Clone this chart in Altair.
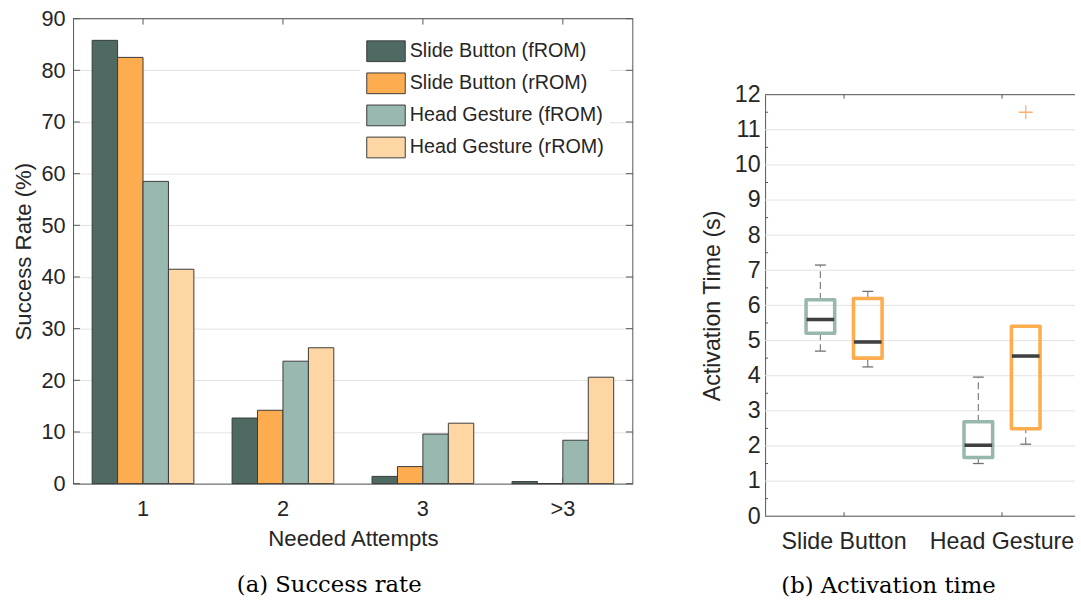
import altair as alt
import pandas as pd

# ---------------- data: (a) success rate ----------------
attempts = ["1", "2", "3", ">3"]
series = ["Slide Button (fROM)", "Slide Button (rROM)",
          "Head Gesture (fROM)", "Head Gesture (rROM)"]
slide_button_from = [85.8, 12.7, 1.4, 0.4]
slide_button_rrom = [82.5, 14.2, 3.3, 0.0]
head_gesture_from = [58.5, 23.7, 9.6, 8.4]
head_gesture_rrom = [41.5, 26.3, 11.7, 20.6]
rate_ticks = [0, 10, 20, 30, 40, 50, 60, 70, 80, 90]

# ---------------- data: (b) activation time ----------------
methods = ["Slide Button", "Head Gesture"]
roms = ["fROM", "rROM"]
box_method = ["Slide Button", "Slide Button", "Head Gesture", "Head Gesture"]
box_rom = ["fROM", "rROM", "fROM", "rROM"]
whisker_low = [4.7, 4.25, 1.5, 2.05]
quartile_1 = [5.21, 4.5, 1.67, 2.49]
median = [5.6, 4.96, 2.02, 4.56]
quartile_3 = [6.16, 6.2, 2.69, 5.41]
whisker_high = [7.15, 6.4, 3.96, 5.41]
outlier_method = ["Head Gesture"]
outlier_rom = ["rROM"]
outlier_value = [11.5]
time_ticks = [0, 1, 2, 3, 4, 5, 6, 7, 8, 9, 10, 11, 12]
time_minor = [0.5, 1.5, 2.5, 3.5, 4.5, 5.5, 6.5, 7.5, 8.5, 9.5, 10.5, 11.5]

# ---------------- style ----------------
SANS = "Liberation Sans"
SERIF = "DejaVu Serif"
TXT = "#262626"
AX = "#555555"
GRID = "#e3e3e3"
bar_colors = ["#4E6A63", "#FDAD4F", "#98B8B0", "#FED6A4"]
box_colors = ["#98B8AF", "#FDAD4F"]

LW, LH = 567, 471      # left plot size
RW, RH = 314, 427      # right plot size (visible part)

# ---------------- tables ----------------
rows = []
for vals, s in zip([slide_button_from, slide_button_rrom, head_gesture_from, head_gesture_rrom], series):
    for a, v in zip(attempts, vals):
        rows.append({"attempt": a, "series": s, "rate": v})
bar_df = pd.DataFrame(rows)
rate_tick_df = pd.DataFrame({"rate": rate_ticks})
att_df = pd.DataFrame({"attempt": attempts})
one = pd.DataFrame({"k": [0]})

box_df = pd.DataFrame({"method": box_method, "rom": box_rom, "lo": whisker_low,
                       "q1": quartile_1, "med": median, "q3": quartile_3, "hi": whisker_high})
out_df = pd.DataFrame({"method": outlier_method, "rom": outlier_rom, "q1": outlier_value})
time_tick_df = pd.DataFrame({"q1": time_ticks})
time_minor_df = pd.DataFrame({"q1": time_minor})
meth_df = pd.DataFrame({"method": methods})

# ---------------- (a) grouped bars ----------------
xa_scale = alt.Scale(domain=attempts, paddingInner=0.273, paddingOuter=0.1365)
ya_scale = alt.Scale(domain=[0, 90], nice=False)
xa_axis = alt.Axis(title="Needed Attempts", labelAngle=0, ticks=False,
                   domainColor=AX, labelFont=SANS, titleFont=SANS,
                   labelFontSize=22, titleFontSize=22.5, labelColor=TXT,
                   titleColor=TXT, titleFontWeight="normal",
                   labelPadding=15, titlePadding=9)
ya_axis = alt.Axis(values=rate_ticks, title="Success Rate (%)", ticks=False,
                   grid=True, gridColor=GRID, domainColor=AX,
                   labelFont=SANS, titleFont=SANS, labelFontSize=22,
                   titleFontSize=22.5, labelColor=TXT, titleColor=TXT,
                   titleFontWeight="normal", labelPadding=8, titlePadding=6)
x_left = alt.X("attempt:N", sort=attempts, scale=xa_scale, axis=xa_axis)
y_left = alt.Y("rate:Q", scale=ya_scale, axis=ya_axis)

bars = alt.Chart(bar_df).mark_bar(stroke="#3a3a3a", strokeWidth=1).encode(
    x=x_left,
    xOffset=alt.XOffset("series:N", sort=series,
                        scale=alt.Scale(domain=series, paddingInner=0, paddingOuter=0)),
    y=y_left,
    color=alt.Color("series:N", sort=series,
                    scale=alt.Scale(domain=series, range=bar_colors),
                    legend=alt.Legend(title=None, orient="none", legendX=291, legendY=16,
                                      fillColor="white", padding=6,
                                      symbolType="M-1,-1H2.714V1H-1Z", symbolSize=441,
                                      symbolStrokeWidth=1, symbolStrokeColor="#3a3a3a",
                                      symbolOpacity=1, labelFont=SANS, labelFontSize=20,
                                      labelColor=TXT, labelOffset=22, rowPadding=6.5,
                                      labelLimit=400)),
)

lt_left = alt.Chart(rate_tick_df).mark_rule(color=AX, strokeWidth=1).encode(
    y=y_left, x=alt.value(0), x2=alt.value(7))
lt_right = alt.Chart(rate_tick_df).mark_rule(color=AX, strokeWidth=1).encode(
    y=y_left, x=alt.value(LW - 7), x2=alt.value(LW))
lt_top = alt.Chart(att_df).mark_rule(color=AX, strokeWidth=1).encode(
    x=x_left, y=alt.value(0), y2=alt.value(6))
lt_bot = alt.Chart(att_df).mark_rule(color=AX, strokeWidth=1).encode(
    x=x_left, y=alt.value(LH - 6), y2=alt.value(LH))
l_topline = alt.Chart(one).mark_rule(color=AX, strokeWidth=1).encode(
    x=alt.value(0), x2=alt.value(LW), y=alt.value(0))
l_rightline = alt.Chart(one).mark_rule(color=AX, strokeWidth=1).encode(
    x=alt.value(LW), y=alt.value(0), y2=alt.value(LH))

left = alt.layer(lt_left, lt_right, lt_top, lt_bot, bars, l_topline, l_rightline).properties(
    width=LW, height=LH,
    title=alt.TitleParams("(a) Success rate", orient="bottom", anchor="middle", frame="group",
                          dx=-24, offset=24, font=SERIF, fontSize=23, fontWeight="normal",
                          color="black"),
)

# ---------------- (b) box plots ----------------
xb_scale = alt.Scale(domain=methods, range=[0, 320], paddingInner=0.4, paddingOuter=0.2)
xo_scale = alt.Scale(domain=roms, paddingInner=0.396, paddingOuter=0.198)
yb_scale = alt.Scale(domain=[0, 12], nice=False)
xb_axis = alt.Axis(title=None, labelAngle=0, ticks=False, domain=False,
                   labelFont=SANS, labelFontSize=23.5, labelColor=TXT,
                   labelPadding=14, labelLimit=300)
yb_axis = alt.Axis(values=time_ticks, title="Activation Time (s)", ticks=False,
                   grid=False, domainColor=AX, labelFont=SANS, titleFont=SANS,
                   labelFontSize=23.5, titleFontSize=23.5, labelColor=TXT,
                   titleColor=TXT, titleFontWeight="normal", labelPadding=5,
                   titlePadding=10)

x_right = alt.X("method:N", sort=methods, scale=xb_scale, axis=xb_axis)
xo = alt.XOffset("rom:N", sort=roms, scale=xo_scale)


def yb(field):
    return alt.Y(field + ":Q", scale=yb_scale, axis=yb_axis)


rom_stroke = alt.Stroke("rom:N", sort=roms, scale=alt.Scale(domain=roms, range=box_colors), legend=None)

grid_r = alt.Chart(time_tick_df).mark_rule(color=GRID, strokeWidth=1).encode(
    y=yb("q1"), x=alt.value(0), x2=alt.value(RW))
minor_r = alt.Chart(time_minor_df).mark_rule(color=AX, strokeWidth=1).encode(
    y=yb("q1"), x=alt.value(0), x2=alt.value(3))
r_top = alt.Chart(one).mark_rule(color=AX, strokeWidth=1).encode(
    x=alt.value(0), x2=alt.value(RW), y=alt.value(0))
r_bot = alt.Chart(one).mark_rule(color=AX, strokeWidth=1).encode(
    x=alt.value(0), x2=alt.value(RW), y=alt.value(RH))
r_ticks_top = alt.Chart(meth_df).mark_rule(color=AX, strokeWidth=1).encode(
    x=x_right, y=alt.value(0), y2=alt.value(4))
r_ticks_bot = alt.Chart(meth_df).mark_rule(color=AX, strokeWidth=1).encode(
    x=x_right, y=alt.value(RH - 4), y2=alt.value(RH))

whisk_hi = alt.Chart(box_df).mark_rule(color="#808080", strokeWidth=1.2, strokeDash=[7, 4]).encode(
    x=x_right, xOffset=xo, y=yb("q3"), y2="hi:Q")
whisk_lo = alt.Chart(box_df).mark_rule(color="#808080", strokeWidth=1.2, strokeDash=[7, 4]).encode(
    x=x_right, xOffset=xo, y=yb("lo"), y2="q1:Q")
cap_hi = alt.Chart(box_df).mark_tick(color="#707070", size=11, thickness=1.3, opacity=1).encode(
    x=x_right, xOffset=xo, y=yb("hi"))
cap_lo = alt.Chart(box_df).mark_tick(color="#707070", size=11, thickness=1.3, opacity=1).encode(
    x=x_right, xOffset=xo, y=yb("lo"))
boxes = alt.Chart(box_df).mark_bar(fillOpacity=0, strokeWidth=3.6, strokeJoin="round").encode(
    x=x_right, xOffset=xo, y=yb("q1"), y2="q3:Q", stroke=rom_stroke)
medians = alt.Chart(box_df).mark_tick(color="#404040", size=28, thickness=3.6, opacity=1).encode(
    x=x_right, xOffset=xo, y=yb("med"))
outliers = alt.Chart(out_df).mark_point(shape="M-1,0H1M0,-1V1", size=196, filled=False,
                                        color="#FDB36A", strokeWidth=1.3, opacity=1).encode(
    x=x_right, xOffset=xo, y=yb("q1"))

right_inner = alt.layer(grid_r, minor_r, r_ticks_top, r_ticks_bot, whisk_hi, whisk_lo,
                        cap_hi, cap_lo, boxes, medians, outliers, r_top, r_bot).properties(
    width=RW, height=RH,
    title=alt.TitleParams("(b) Activation time", orient="bottom", anchor="middle", frame="group",
                          dx=-32, offset=22, font=SERIF, fontSize=23, fontWeight="normal",
                          color="black"),
)

spacer = alt.Chart(one).mark_point(opacity=0).encode(
    x=alt.value(0), y=alt.value(0)).properties(width=10, height=45)

right = alt.vconcat(spacer, right_inner, spacing=20)

chart = alt.hconcat(left, right, spacing=67).resolve_scale(
    xOffset="independent", color="independent", stroke="independent"
).properties(
    padding={"left": 12, "top": 4, "right": 0, "bottom": 0},
    background="white",
).configure_view(strokeWidth=0)

chart.save("out.html", embed_options={"renderer": "svg", "actions": False})
